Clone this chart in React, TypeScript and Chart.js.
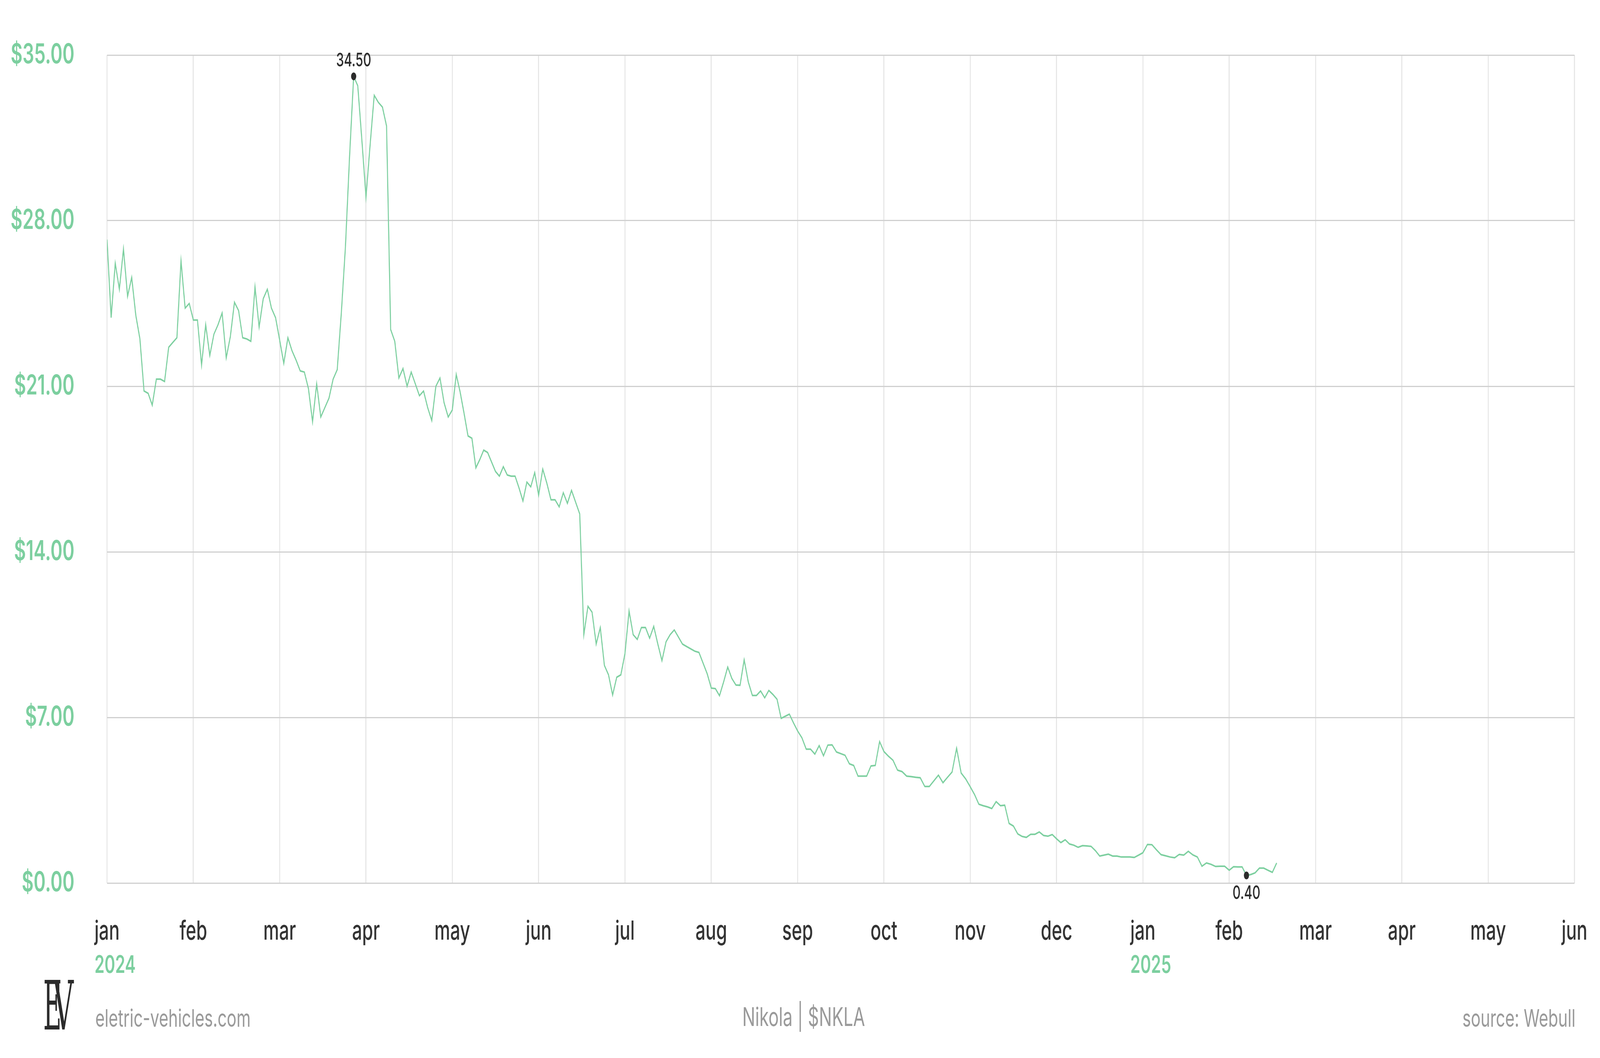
import { Chart, registerables } from 'chart.js';
import { useEffect, useRef } from 'react';

Chart.register(...registerables);

const monthLabels = ['jan', 'feb', 'mar', 'apr', 'may', 'jun', 'jul', 'aug', 'sep', 'oct', 'nov', 'dec', 'jan', 'feb', 'mar', 'apr', 'may', 'jun'];
const yearTicks = [0, 12];
const yearLabels = ['2024', '2025'];
const priceTicks = [0, 7, 14, 21, 28, 35];
const extremeLabels = ['34.50', '0.40'];

// daily closes, one array per month (jan 2024 .. feb 2025)
const jan24 = [27.2, 23.9, 26.2, 25.1, 26.8, 24.8, 25.6, 24.0, 23.0, 20.8, 20.7, 20.2, 21.3, 21.3, 21.2, 22.65, 22.85, 23.05, 26.3, 24.3, 24.5];
const feb24 = [23.8, 23.8, 21.9, 23.6, 22.3, 23.2, 23.6, 24.1, 22.2, 23.1, 24.55, 24.2, 23.05, 23.0, 22.9, 25.2, 23.5, 24.7, 25.1, 24.3, 23.9];
const mar24 = [22.95, 21.97, 23.05, 22.5, 22.1, 21.65, 21.6, 20.9, 19.5, 21.1, 19.7, 20.1, 20.5, 21.3, 21.7, 24.1, 26.9, 30.7, 34.1, 33.7, 31.4];
const apr24 = [29.0, 31.2, 33.3, 33.0, 32.8, 32.0, 23.4, 22.9, 21.35, 21.75, 21.0, 21.6, 21.1, 20.6, 20.8, 20.1, 19.55, 21.0, 21.35, 20.3, 19.7];
const may24 = [20.0, 21.5, 20.75, 19.85, 18.9, 18.8, 17.55, 17.9, 18.3, 18.2, 17.8, 17.4, 17.2, 17.6, 17.25, 17.2, 17.2, 16.7, 16.15, 16.95, 16.75, 17.35];
const jun24 = [16.4, 17.5, 16.9, 16.2, 16.2, 15.9, 16.5, 16.05, 16.6, 16.1, 15.6, 10.5, 11.7, 11.45, 10.1, 10.8, 9.2, 8.8, 7.95, 8.7, 8.8];
const jul24 = [9.7, 11.5, 10.5, 10.3, 10.8, 10.8, 10.35, 10.85, 10.1, 9.4, 10.2, 10.5, 10.7, 10.4, 10.1, 10.0, 9.9, 9.8, 9.75, 9.3, 8.85];
const aug24 = [8.24, 8.22, 7.92, 8.5, 9.13, 8.65, 8.37, 8.36, 9.44, 8.5, 7.93, 7.93, 8.12, 7.83, 8.14, 7.97, 7.77, 6.96, 7.05, 7.14, 6.77];
const sep24 = [6.43, 6.14, 5.66, 5.66, 5.45, 5.81, 5.38, 5.83, 5.84, 5.54, 5.47, 5.4, 5.04, 4.97, 4.52, 4.52, 4.52, 4.95, 4.97, 5.98];
const oct24 = [5.56, 5.36, 5.19, 4.77, 4.71, 4.52, 4.5, 4.47, 4.45, 4.08, 4.08, 4.32, 4.56, 4.24, 4.47, 4.69, 5.7, 4.65, 4.4];
const nov24 = [4.07, 3.74, 3.33, 3.27, 3.22, 3.15, 3.44, 3.27, 3.29, 2.52, 2.41, 2.08, 1.97, 1.93, 2.06, 2.06, 2.16, 2.01, 1.98, 2.05];
const dec24 = [1.87, 1.71, 1.83, 1.65, 1.6, 1.51, 1.58, 1.57, 1.55, 1.37, 1.14, 1.18, 1.22, 1.14, 1.14, 1.1, 1.1, 1.1, 1.08, 1.18];
const jan25 = [1.28, 1.63, 1.62, 1.4, 1.2, 1.15, 1.1, 1.07, 1.21, 1.18, 1.34, 1.19, 1.1, 0.71, 0.85, 0.79, 0.7, 0.71, 0.71];
const feb25 = [0.54, 0.69, 0.68, 0.68, 0.32, 0.36, 0.43, 0.63, 0.63, 0.54, 0.45, 0.85];

const closes = [jan24, feb24, mar24, apr24, may24, jun24, jul24, aug24, sep24, oct24, nov24, dec24, jan25, feb25];
const tradingDaysPerMonth = 20;

const GREEN = '#7ccf9f';
const FONT = 'Inter, "Noto Sans", sans-serif';
const W = 6144;
const H = 2709;

const points = closes.flatMap((month, m) => {
  const n = m === closes.length - 1 ? tradingDaysPerMonth : month.length;
  return month.map((y, i) => ({ x: m + i / n, y }));
});

// chart.js pads the chart area for tick label overhang; the layout padding below handles that instead
const noScalePadding = (scale: any) => {
  scale.paddingLeft = 0;
  scale.paddingRight = 0;
  scale.paddingTop = 0;
  scale.paddingBottom = 0;
};

const extremesPlugin = {
  id: 'extremes',
  afterDatasetsDraw(chart: any) {
    const meta = chart.getDatasetMeta(0);
    const ys = points.map((p) => p.y);
    const hi = ys.indexOf(Math.max(...ys));
    const lo = ys.indexOf(Math.min(...ys));
    const ctx = chart.ctx;
    ctx.save();
    ctx.fillStyle = '#2b2b2b';
    ctx.font = `500 48px ${FONT}`;
    ctx.textAlign = 'center';
    ctx.textBaseline = 'alphabetic';
    [[hi, -26], [lo, 60]].forEach(([idx, dy], k) => {
      const el = meta.data[idx];
      ctx.beginPath();
      ctx.arc(el.x, el.y, 10, 0, Math.PI * 2);
      ctx.fill();
      ctx.fillText(extremeLabels[k], el.x, el.y + dy);
    });
    ctx.restore();
  },
};

const yearPlugin = {
  id: 'years',
  afterDraw(chart: any) {
    const xs = chart.scales.x;
    const ctx = chart.ctx;
    ctx.save();
    ctx.textAlign = 'left';
    ctx.textBaseline = 'middle';
    yearTicks.forEach((t, k) => {
      ctx.font = `500 68px ${FONT}`;
      const w = ctx.measureText(monthLabels[t]).width;
      ctx.font = `600 62px ${FONT}`;
      ctx.fillStyle = GREEN;
      ctx.fillText(yearLabels[k], xs.getPixelForValue(t) - w / 2, xs.top + 211);
    });
    ctx.restore();
  },
};

function PriceChart() {
  const chartRef = useRef<HTMLCanvasElement>(null);

  useEffect(() => {
    const context = chartRef.current?.getContext('2d');
    if (!context) return undefined;

    const chartInstance = new Chart(context, {
      type: 'line',
      data: {
        datasets: [
          {
            data: points,
            borderColor: GREEN,
            borderWidth: 4,
            pointRadius: 0,
            tension: 0,
            fill: false,
          },
        ],
      },
      options: {
        animation: false,
        responsive: false,
        devicePixelRatio: 1,
        layout: { padding: { top: 141, right: 98, left: 0, bottom: 0 } },
        plugins: {
          legend: { display: false },
          tooltip: { enabled: false },
        },
        scales: {
          x: {
            type: 'linear',
            min: 0,
            max: monthLabels.length - 1,
            afterFit: (scale: any) => {
              scale.height = 448;
              noScalePadding(scale);
            },
            afterBuildTicks: (scale: any) => {
              scale.ticks = monthLabels.map((_, i) => ({ value: i }));
            },
            grid: { color: '#e6e6e6', lineWidth: 4, drawTicks: false },
            border: { display: false },
            ticks: {
              autoSkip: false,
              maxRotation: 0,
              padding: 84,
              color: '#333333',
              font: { family: FONT, size: 68, weight: 500 },
              callback: (v: any) => monthLabels[v],
            },
          },
          y: {
            min: priceTicks[0],
            max: priceTicks[priceTicks.length - 1],
            afterFit: (scale: any) => {
              scale.width = 411;
              noScalePadding(scale);
            },
            afterBuildTicks: (scale: any) => {
              scale.ticks = priceTicks.map((v) => ({ value: v }));
            },
            grid: { color: '#d0d0d0', lineWidth: 3, drawTicks: false },
            border: { display: false },
            ticks: {
              padding: 125,
              color: GREEN,
              font: { family: FONT, size: 70, weight: 600 },
              callback: (v: any) => `$${Number(v).toFixed(2)}`,
            },
          },
        },
      },
      plugins: [extremesPlugin, yearPlugin],
    });

    return () => {
      chartInstance.destroy();
    };
  }, []);

  return <canvas ref={chartRef} width={W} height={H} style={{ display: 'block', width: W, height: H }}></canvas>;
}

export default function App() {
  // laid out in 6144x2709 units, stretched onto whatever viewport the page really gets
  const sx = window.innerWidth / W;
  const sy = window.innerHeight / H;
  const footText = {
    position: 'absolute' as const,
    top: 2576,
    fontFamily: FONT,
    fontSize: 62,
    lineHeight: '62px',
    color: '#9a9a9a',
    whiteSpace: 'nowrap' as const,
  };
  const serif = {
    position: 'absolute' as const,
    fontFamily: '"DejaVu Serif", "Liberation Serif", serif',
    fontSize: 175,
    lineHeight: '175px',
    color: '#2b2b2b',
  };
  return (
    <div style={{ position: 'fixed', left: 0, top: 0, width: '100vw', height: '100vh', overflow: 'hidden', background: '#ffffff' }}>
      <div style={{ position: 'absolute', left: 0, top: 0, width: W, height: H, transform: `scale(${sx}, ${sy})`, transformOrigin: '0 0' }}>
        <PriceChart />
        <div style={{ position: 'absolute', left: 166, top: 2488, width: 140, height: 150 }}>
          <span style={{ ...serif, left: 0, top: 0, transform: 'scaleX(0.55)', transformOrigin: 'left' }}>E</span>
          <span style={{ ...serif, left: 38, top: 0, transform: 'scaleX(0.62)', transformOrigin: 'left' }}>V</span>
        </div>
        <div style={{ ...footText, left: 366 }}>eletric-vehicles.com</div>
        <div style={{ ...footText, fontSize: 66, top: 2572, left: 3086, transform: 'translateX(-50%)' }}>Nikola | $NKLA</div>
        <div style={{ ...footText, right: 94 }}>source: Webull</div>
      </div>
    </div>
  );
}
